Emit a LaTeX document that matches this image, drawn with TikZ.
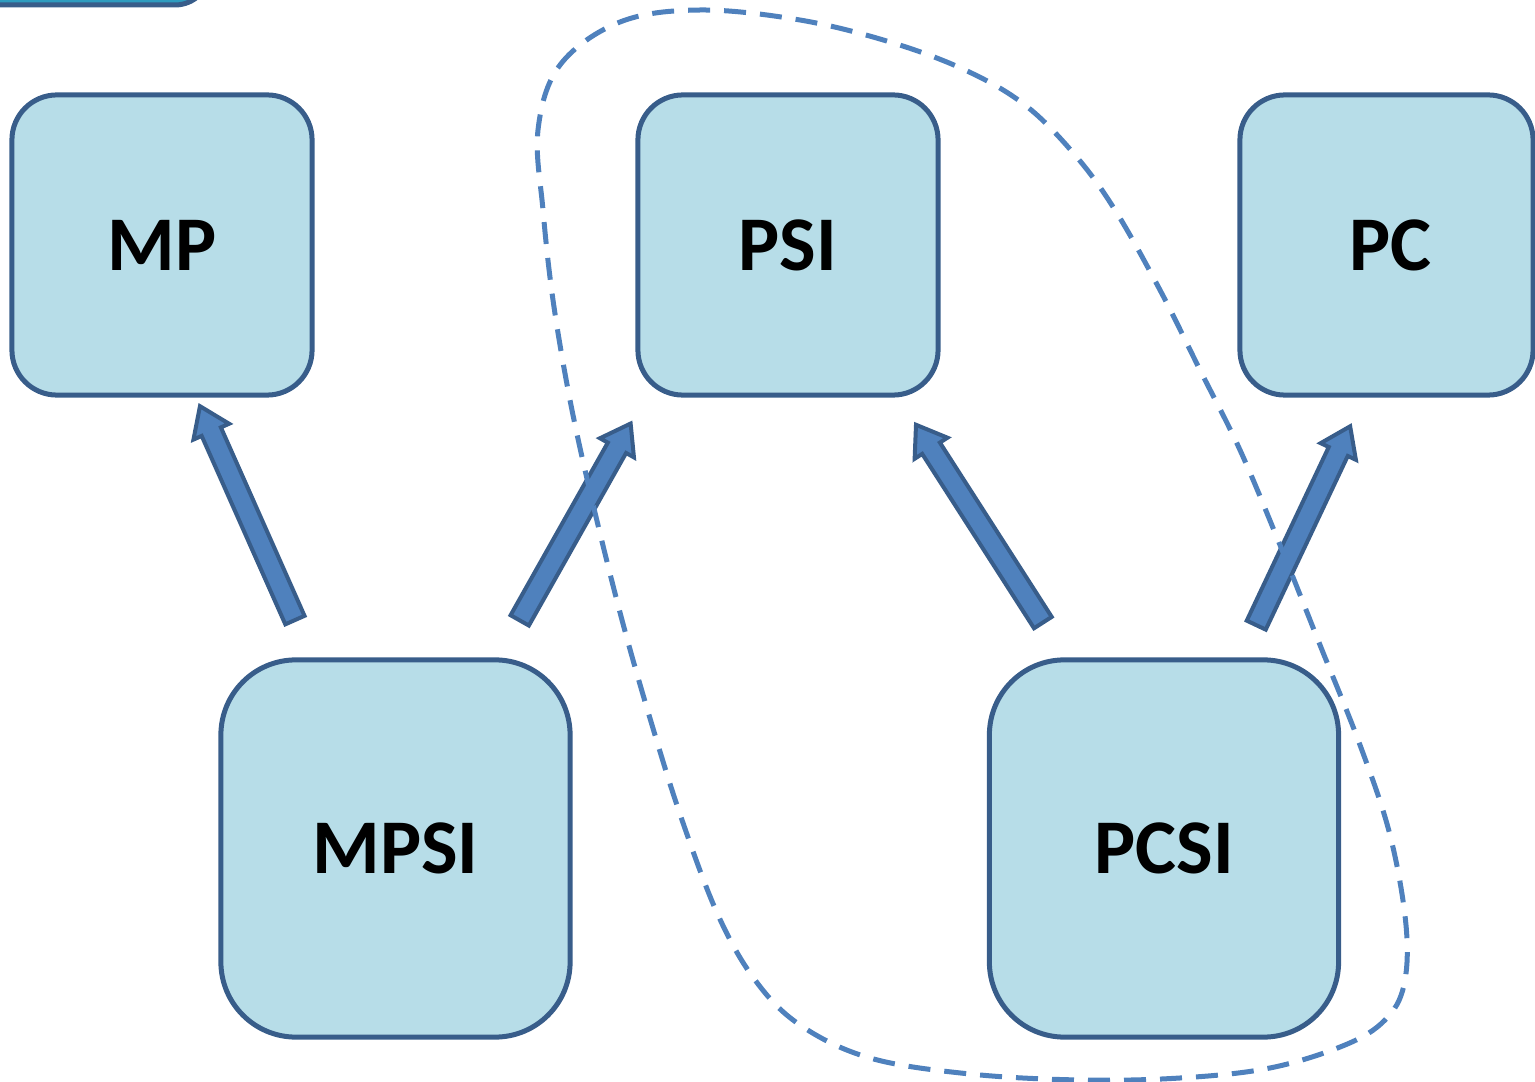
\documentclass[tikz,border=0pt]{standalone}
\usepackage{fontspec}
\setmainfont{Carlito}
\usetikzlibrary{shapes.arrows,calc}
\definecolor{boxfill}{HTML}{B7DDE8}
\definecolor{boxline}{HTML}{385D8A}
\definecolor{arrfill}{HTML}{4F81BD}
\definecolor{topfill}{HTML}{2E9CBF}
\newcommand\blockarr[2]{\path let \p1=(#1), \p2=(#2), \n1={atan2(\y2-\y1,\x2-\x1)}, \n2={veclen(\x2-\x1,\y2-\y1)} in node[barrow, rotate=\n1, minimum height=\n2] at ($(#1)!0.5!(#2)$) {};}
\begin{document}
\begin{tikzpicture}[x=0.01cm,y=-0.01cm,
  box/.style={draw=boxline, fill=boxfill, line width=0.05cm, inner sep=0pt,
    font=\bfseries\fontsize{22}{26}\selectfont},
  smallbox/.style={box, minimum width=3cm, minimum height=3cm, rounded corners=0.45cm},
  bigbox/.style={box, minimum width=3.49cm, minimum height=3.77cm, rounded corners=0.75cm},
  barrow/.style={single arrow, draw=boxline, fill=arrfill, line width=0.04cm,
    inner xsep=0pt, inner ysep=0.085cm, outer sep=0pt,
    single arrow head extend=0.09cm, single arrow tip angle=70},
  group/.style={draw=arrfill, line width=0.05cm, dash pattern=on 0.22cm off 0.14cm}
]
\useasboundingbox (0,0) rectangle (1535,1082);
\clip (0,0) rectangle (1535,1082);

% partial shape at top-left
\draw[draw=boxline, fill=topfill, line width=0.05cm, rounded corners=0.35cm] (-100,-100) rectangle (210,5);

\node[smallbox] (MP) at (162,245) {\raisebox{-0.04cm}{MP}};
\node[smallbox] (PSI) at (788,245) {\raisebox{-0.04cm}{PSI}};
\node[smallbox, minimum width=2.93cm] (PC) at (1386.5,245) {\raisebox{-0.04cm}{\hspace{0.08cm}PC}};
\node[bigbox] (MPSI) at (395.5,848.5) {MPSI};
\node[bigbox] (PCSI) at (1164,848.5) {PCSI};

\coordinate (a1s) at (298,627); \coordinate (a1e) at (203,413);
\coordinate (a2s) at (516,627); \coordinate (a2e) at (627,430);
\coordinate (a3s) at (1047,629); \coordinate (a3e) at (920,431);
\coordinate (a4s) at (1253,632); \coordinate (a4e) at (1347,433);

\blockarr{a1s}{a1e}
\blockarr{a2s}{a2e}
\blockarr{a3s}{a3e}
\blockarr{a4s}{a4e}

\draw[group] plot[smooth cycle, tension=0.6] coordinates {
  (538,130) (560,65) (620,22) (700,10) (800,20) (890,42) (965,70) (1025,105)
  (1075,155) (1115,210) (1160,290) (1200,370) (1240,450) (1280,545) (1320,645)
  (1360,745) (1390,835) (1406,925) (1404,985) (1385,1020) (1345,1045) (1270,1068)
  (1180,1078) (1080,1080) (970,1074) (870,1058) (800,1025) (755,980) (718,915)
  (682,820) (652,725) (622,620) (592,500) (570,400) (553,300) (543,210)};
\end{tikzpicture}
\end{document}
